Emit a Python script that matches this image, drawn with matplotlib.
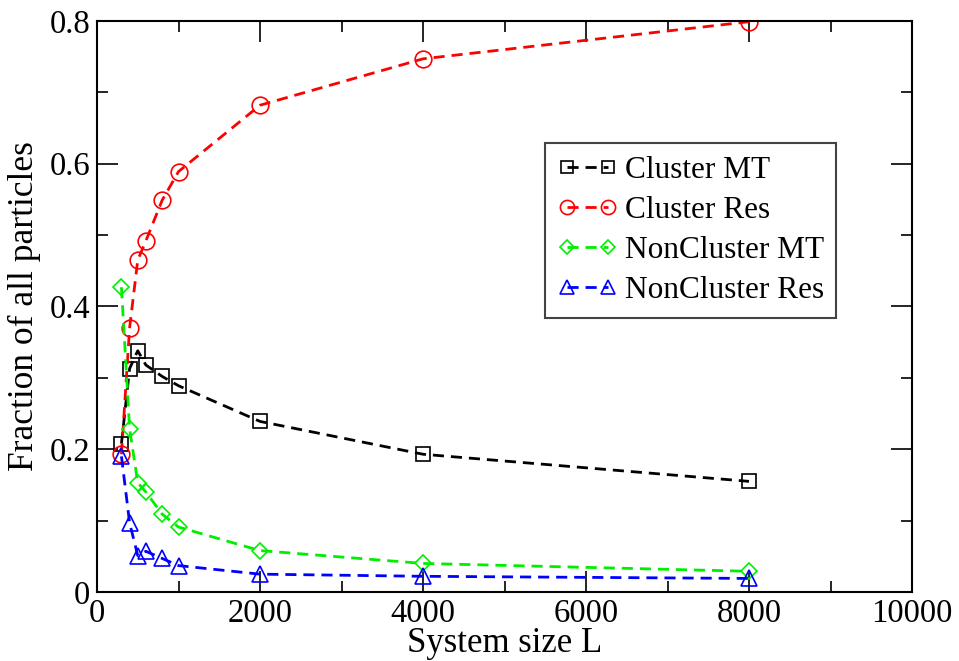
import matplotlib
matplotlib.use("Agg")
import matplotlib.pyplot as plt
from matplotlib.ticker import MultipleLocator, FuncFormatter

plt.rcParams['font.family'] = ['Liberation Serif', 'DejaVu Serif']

L = [300, 400, 500, 600, 800, 1000, 2000, 4000, 8000]
cluster_mt = [0.208, 0.313, 0.338, 0.318, 0.302, 0.289, 0.239, 0.193, 0.155]
cluster_res = [0.193, 0.370, 0.465, 0.492, 0.549, 0.589, 0.682, 0.747, 0.799]
noncluster_mt = [0.427, 0.229, 0.153, 0.140, 0.109, 0.091, 0.058, 0.040, 0.029]
noncluster_res = [0.190, 0.097, 0.051, 0.057, 0.047, 0.037, 0.025, 0.022, 0.019]

labels = ["Cluster MT", "Cluster Res", "NonCluster MT", "NonCluster Res"]
colors = ["black", "red", "#00ee00", "blue"]
markers = ["s", "o", "D", "^"]
msizes = [10, 12, 8.5, 12]
series = [cluster_mt, cluster_res, noncluster_mt, noncluster_res]

fig = plt.figure(figsize=(9.59, 6.61), dpi=100)
ax = fig.add_axes([97/959, 1-592/661, (912-97)/959, (592-21)/661])

for y, lab, c, m, ms in zip(series, labels, colors, markers, msizes):
    ax.plot(L, y, color=c, linestyle=(0, (4, 2.5)), linewidth=2.0,
            marker=m, markersize=ms, markerfacecolor='none',
            markeredgecolor=c, markeredgewidth=1.2, label=lab)

ax.set_xlim(0, 10000)
ax.set_ylim(0, 0.8)
ax.xaxis.set_major_locator(MultipleLocator(2000))
ax.xaxis.set_minor_locator(MultipleLocator(1000))
ax.yaxis.set_major_locator(MultipleLocator(0.2))
ax.yaxis.set_minor_locator(MultipleLocator(0.1))
ax.tick_params(which='both', direction='in', top=True, right=True, labelsize=23.5, width=1.2)
ax.tick_params(which='major', length=15, pad=5)
ax.tick_params(which='minor', length=8)
ax.yaxis.set_major_formatter(FuncFormatter(lambda v, p: "0" if v == 0 else f"{v:.1f}"))
for s in ax.spines.values():
    s.set_linewidth(1.5)

ax.set_xlabel("System size L", fontsize=25, labelpad=-2)
ax.set_ylabel("Fraction of all particles", fontsize=25.5, labelpad=6)

leg = ax.legend(loc='upper left', bbox_to_anchor=(545/959, 1-143/661),
                bbox_transform=fig.transFigure, fontsize=22.5, numpoints=2,
                handlelength=1.9, handletextpad=0.25, labelspacing=0.36,
                fancybox=False, framealpha=1, edgecolor='#444444',
                borderpad=0.4, borderaxespad=0, markerscale=0.85)
leg.get_frame().set_linewidth(1.5)

fig.savefig("out.png", dpi=100)
